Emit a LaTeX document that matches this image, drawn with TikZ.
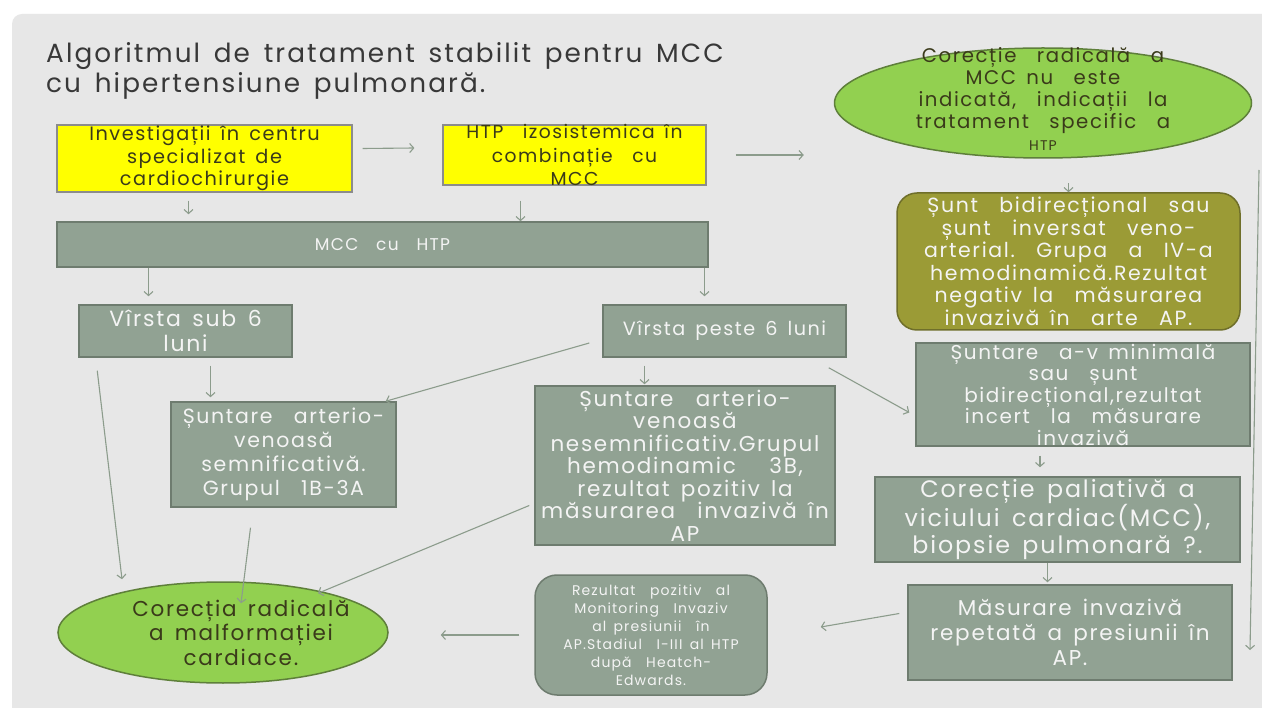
\documentclass[tikz,border=0pt]{standalone}
\usepackage{fontspec}
\setmainfont{Poppins}[LetterSpace=8,WordSpace=1.5]
\usetikzlibrary{arrows.meta,positioning,calc,shapes.geometric}

\definecolor{panel}{HTML}{E7E7E7}
\definecolor{boxgray}{HTML}{91A293}
\definecolor{boxedge}{HTML}{6E7C6F}
\definecolor{yfill}{HTML}{FFFF00}
\definecolor{yedge}{HTML}{8C8C8C}
\definecolor{ovalfill}{HTML}{92D050}
\definecolor{ovaledge}{HTML}{5E7F3A}
\definecolor{olvfill}{HTML}{9B9B36}
\definecolor{olvedge}{HTML}{6F6F2A}
\definecolor{arrgray}{HTML}{8C9C8C}
\definecolor{txtlight}{HTML}{F4F4F4}
\definecolor{txtdark}{HTML}{3A3A1A}
\definecolor{titlecol}{HTML}{383838}

\newcommand{\fsz}[2]{\fontsize{#1}{#2}\selectfont}

\tikzset{
	every node/.style={inner sep=0pt},
	gbox/.style={draw=boxedge, line width=1.5pt, fill=boxgray},
	ybox/.style={draw=yedge, line width=1.2pt, fill=yfill},
	oval/.style={ellipse, draw=ovaledge, line width=1.5pt, fill=ovalfill},
	olvbox/.style={draw=olvedge, line width=1.5pt, fill=olvfill, rounded corners=20pt},
	wtxt/.style={text=txtlight, align=center},
	dtxt/.style={text=txtdark, align=center},
	arr/.style={draw=arrgray, line width=1.1pt, -{Straight Barb[length=4pt,width=9pt]}},
}

\begin{document}
\begin{tikzpicture}[x=1pt, y=-1pt]
		\useasboundingbox (0,0) rectangle (1262,708);
		\fill[white] (0,0) rectangle (1262,708);
		\fill[panel, rounded corners=10pt] (12,730) -- (12,14) -- (1290,14) -- (1290,730) -- cycle;

		% title
		\node[anchor=north west, align=left, font=\fsz{26.3}{30}, text=titlecol] (title) at (46,42)
			{Algoritmul de tratament stabilit pentru MCC\\cu hipertensiune pulmonară.};

		% top row
		\node[ybox, minimum width=295, minimum height=67] (inv) at (204.5,158.5) {};
		\node[dtxt, font=\fsz{19.3}{22.5}] (inv-t) at (inv) {Investigații în centru\\specializat de\\cardiochirurgie};
		\node[ybox, minimum width=263, minimum height=60] (htp) at (574.5,155) {};
		\node[dtxt, font=\fsz{18.7}{23.5}] (htp-t) at (htp) {HTP\ \ izosistemica în\\combinație\ \ cu\\MCC};
		\node[oval, minimum width=417, minimum height=110] (oval1) at (1043,103) {};
		\node[dtxt, font=\fsz{19.7}{22}] (oval1-t) at ([yshift=4]oval1.center)
			{Corecție\ \ radicală\ \ a\\MCC nu\ \ este\\indicată,\ \ indicații\ \ la\\tratament\ \ specific\ \ a\\{\fsz{14}{16}HTP}};

		\node[gbox, minimum width=651, minimum height=45] (mcc) at (382.5,244.5) {};
		\node[wtxt, font=\fsz{17}{18}] (mcc-t) at (mcc) {MCC\ \ cu\ \ HTP};

		% age
		\node[gbox, minimum width=213, minimum height=52] (v1) at (185.5,331) {};
		\node[wtxt, font=\fsz{22}{25}] (v1-t) at (v1) {Vîrsta sub 6\\luni};
		\node[gbox, minimum width=243, minimum height=52] (v2) at (724.5,331) {};
		\node[wtxt, font=\fsz{19.2}{22}] (v2-t) at (v2) {Vîrsta peste 6 luni};

		% right column
		\node[olvbox, minimum width=343, minimum height=137] (olv) at (1068.5,261.5) {};
		\node[wtxt, font=\fsz{20.5}{22.5}] (olv-t) at (olv)
			{Șunt\ \ bidirecțional\ \ sau\\șunt\ \ inversat\ \ veno-\\arterial.\ \ Grupa\ \ a\ \ IV-a\\hemodinamică.Rezultat\\negativ la\ \ măsurarea\\invazivă în\ \ arte\ \ AP.};
		\node[gbox, minimum width=334, minimum height=103] (sav) at (1083,394.5) {};
		\node[wtxt, font=\fsz{20}{21.5}] (sav-t) at (sav)
			{Șuntare\ \ a-v minimală\\sau\ \ șunt\\bidirecțional,rezultat\\incert\ \ la\ \ măsurare\\invazivă};
		\node[gbox, minimum width=365, minimum height=85] (pal) at (1057.5,519.5) {};
		\node[wtxt, font=\fsz{23.8}{27}] (pal-t) at (pal)
			{Corecție paliativă a\\viciului cardiac(MCC),\\biopsie pulmonară ?.};
		\node[gbox, minimum width=324, minimum height=95] (mas) at (1070,632.5) {};
		\node[wtxt, font=\fsz{21.5}{25}] (mas-t) at (mas)
			{Măsurare invazivă\\repetată a presiunii în\\AP.};

		% middle
		\node[gbox, minimum width=225, minimum height=105] (s1) at (283.5,454.5) {};
		\node[wtxt, font=\fsz{20.5}{24}] (s1-t) at (s1)
			{Șuntare\ \ arterio-\\venoasă\\semnificativă.\\Grupul\ \ 1B-3A};
		\node[gbox, minimum width=300, minimum height=159] (s2) at (685,465.5) {};
		\node[wtxt, font=\fsz{21.5}{22.5}] (s2-t) at (s2)
			{Șuntare\ \ arterio-\\venoasă\\nesemnificativ.Grupul\\hemodinamic\ \ \ 3B,\\rezultat pozitiv la\\măsurarea\ \ invazivă în\\AP};

		% bottom
		\node[gbox, rounded corners=22pt, minimum width=232, minimum height=120] (rez) at (651,635) {};
		\node[wtxt, font=\fsz{14}{18}] (rez-t) at (rez)
			{Rezultat\ \ pozitiv\ \ al\\Monitoring\ \ Invaziv\\al presiunii\ \ în\\AP.Stadiul\ \ I-III al HTP\\după\ \ Heatch-\\Edwards.};
		\node[oval, minimum width=330, minimum height=101] (oval2) at (223,632.5) {};
		\node[dtxt, font=\fsz{21.5}{24.5}] (oval2-t) at ([xshift=18]oval2.center)
			{Corecția radicală\\a malformației\\cardiace.};

		% arrows
		\draw[arr] ([xshift=10,yshift=10]inv.east) -- ([xshift=-28,yshift=7]htp.west);
		\draw[arr, shorten <=29pt, shorten >=30pt] (htp.east) -- (htp.east -| oval1.west);
		\draw[arr, shorten <=8pt, shorten >=7pt] ([xshift=-16]inv.south) -- ([xshift=-16]inv.south |- mcc.north);
		\draw[arr, shorten <=15pt] ([xshift=-54]htp.south) -- ([xshift=-54]htp.south |- mcc.north);
		\draw[arr, shorten >=8pt] ([xshift=-37]v1.north |- mcc.south) -- ([xshift=-37]v1.north);
		\draw[arr, shorten >=8pt] ([xshift=-20]v2.north |- mcc.south) -- ([xshift=-20]v2.north);
		\draw[arr, shorten <=8pt, shorten >=4pt] ([xshift=25]v1.south) -- ([xshift=25]v1.south |- s1.north);
		\draw[arr, shorten <=8pt, shorten >=1pt] ([xshift=-80]v2.south) -- ([xshift=-80]v2.south |- s2.north);
		\draw[arr] ([xshift=-13,yshift=-12]v2.west) -- ([xshift=-11]s1.north east);
		\draw[arr] ([xshift=-18,yshift=-10]v2.south east) -- ([xshift=-6,yshift=-18]sav.west);
		\draw[arr, shorten <=9pt, shorten >=9pt] ([xshift=-43]sav.south) -- ([xshift=-43]sav.south |- pal.north);
		\draw[arr, shorten >=2pt] ([xshift=-10]pal.south) -- ([xshift=-10]pal.south |- mas.north);
		\draw[arr] ([xshift=-8,yshift=19]mas.west) -- ([xshift=53,yshift=8]rez.east);
		\draw[arr, shorten <=15pt, shorten >=52pt] (rez.west) -- (rez.west -| oval2.east);
		\draw[arr] ([xshift=19,yshift=-13]v1.south west) -- ([xshift=-101,yshift=2]oval2.north);
		\draw[arr] ([xshift=-33,yshift=-20]s1.south) -- ([xshift=18,yshift=-22]oval2.north);
		\draw[arr] ([xshift=-5,yshift=-40]s2.west) -- ([xshift=95,yshift=-12]oval2.north);
		\draw[arr] ([yshift=9]olv.north) -- (olv.north);
		\coordinate (rtop) at (1259,170);
		\coordinate (rbot) at (1250,650);
		\draw[arr] (rtop) -- (rbot);
	\end{tikzpicture}
\end{document}
